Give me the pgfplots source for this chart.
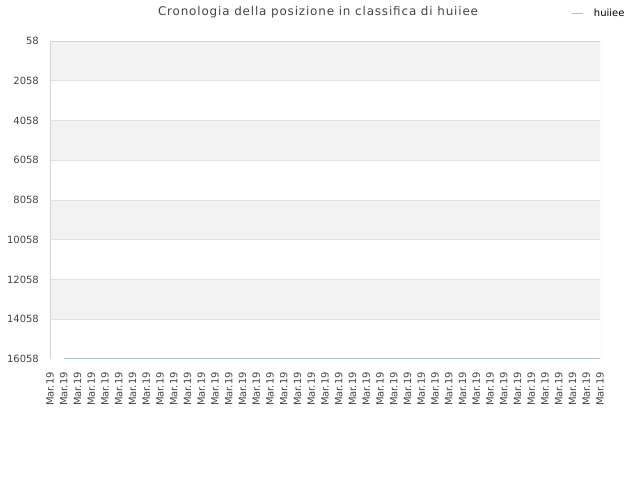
\documentclass[border=0pt]{standalone}
\usepackage{pgfplots}
\pgfplotsset{compat=1.18}
\usepackage{fontspec}
\setmainfont{DejaVu Sans}

\definecolor{bandgray}{HTML}{F3F3F3}
\definecolor{gridgray}{HTML}{E2E2E2}
\definecolor{framegray}{HTML}{D4D4D4}
\definecolor{textgray}{HTML}{444444}
\definecolor{lineblue}{HTML}{9DC3EC}

\begin{document}
\begin{tikzpicture}[x=1bp,y=1bp]
\useasboundingbox (0,0) rectangle (640,480);
\node[font=\fontsize{12}{14}\selectfont\addfontfeature{LetterSpace=7}, text=textgray] at (318,468) {Cronologia della posizione in classifica di huiiee};
\begin{axis}[
    at={(50bp,121bp)}, anchor=south west,
    scale only axis,
    width=550bp, height=318bp,
    xmin=0, xmax=40,
    ymin=58, ymax=16058,
    y dir=reverse,
    xtick={0,...,40},
    xticklabel={Mar.19},
    ytick={58,2058,...,16058},
    scaled y ticks=false,
    /pgf/number format/assume math mode=true,
    /pgf/number format/1000 sep={},
    ticklabel style={font=\fontsize{10}{12}\selectfont, text=textgray},
    xticklabel style={yshift=-13bp, rotate=90, anchor=east, inner sep=0pt},
    yticklabel style={anchor=east, inner sep=0pt, xshift=-11bp},
    major tick length=0pt,
    axis line style={draw=none},
    legend style={at={(0.947,1.0865)}, anchor=west, draw=none, fill=none,
        inner sep=0pt, font=\fontsize{10}{12}\selectfont, text=black},
    legend cell align=left,
    legend image code/.code={\draw[lineblue, line width=1.8bp] (0bp,0bp) -- (11bp,0bp); \path[draw=none] (0bp,0bp) -- (20bp,0bp);},
]
% alternating bands
\addplot[fill=bandgray, draw=none, forget plot] coordinates {(0,58) (40,58) (40,2058) (0,2058)} -- cycle;
\addplot[fill=bandgray, draw=none, forget plot] coordinates {(0,4058) (40,4058) (40,6058) (0,6058)} -- cycle;
\addplot[fill=bandgray, draw=none, forget plot] coordinates {(0,8058) (40,8058) (40,10058) (0,10058)} -- cycle;
\addplot[fill=bandgray, draw=none, forget plot] coordinates {(0,12058) (40,12058) (40,14058) (0,14058)} -- cycle;
% grid lines
\pgfplotsinvokeforeach{2058,4058,6058,8058,10058,12058,14058}{
  \addplot[gridgray, line width=0.8bp, forget plot] coordinates {(0,#1) (40,#1)};
}
% frame
\addplot[framegray, line width=0.8bp, forget plot] coordinates {(0,16058) (0,58) (40,58) (40,16058) (0,16058)};

\addplot[lineblue, line width=1.8bp] coordinates {
    (1,16058) (2,16058) (3,16058) (4,16058) (5,16058) (6,16058) (7,16058) (8,16058)
    (9,16058) (10,16058) (11,16058) (12,16058) (13,16058) (14,16058) (15,16058) (16,16058)
    (17,16058) (18,16058) (19,16058) (20,16058) (21,16058) (22,16058) (23,16058) (24,16058)
    (25,16058) (26,16058) (27,16058) (28,16058) (29,16058) (30,16058) (31,16058) (32,16058)
    (33,16058) (34,16058) (35,16058) (36,16058) (37,16058) (38,16058) (39,16058) (40,16058)};
\addlegendentry{huiiee}
\end{axis}
\end{tikzpicture}
\end{document}
